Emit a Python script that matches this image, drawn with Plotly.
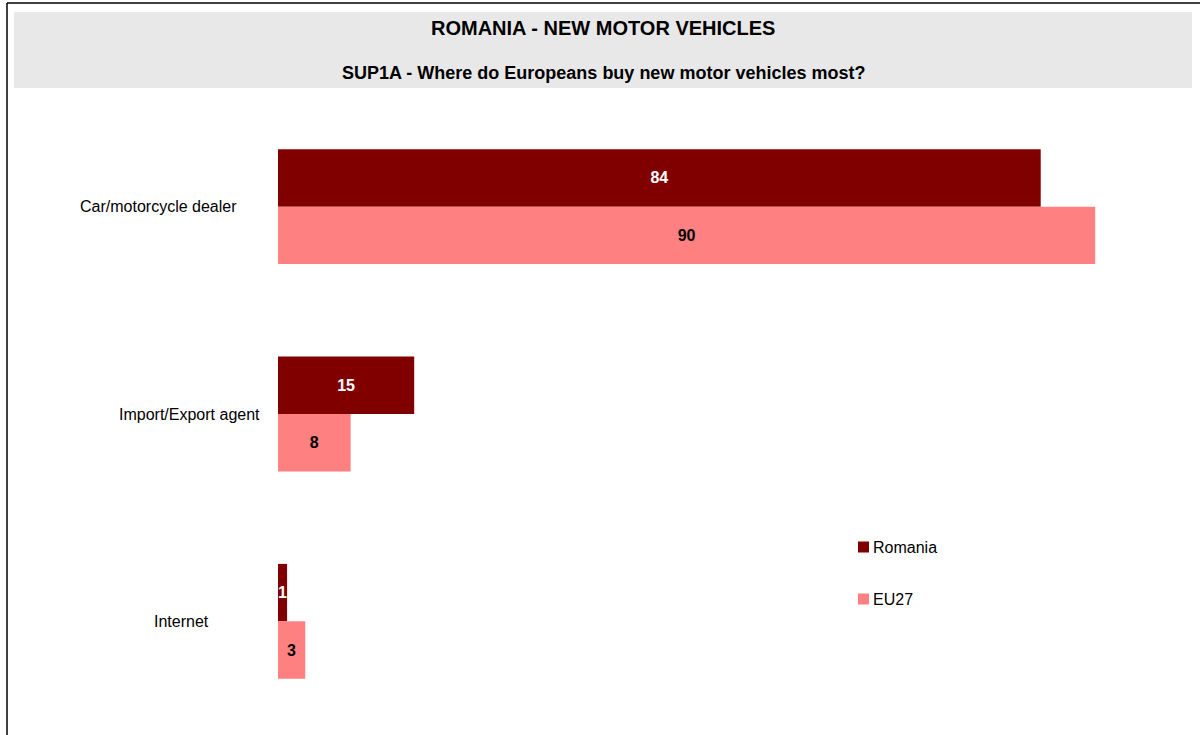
import plotly.graph_objects as go

categories = ["Car/motorcycle dealer", "Import/Export agent", "Internet"]
romania = [84, 15, 1]
eu27 = [90, 8, 3]
series_names = ["Romania", "EU27"]
colors = ["#800000", "#FF8080"]
title = "ROMANIA - NEW MOTOR VEHICLES"
subtitle = "SUP1A - Where do Europeans buy new motor vehicles most?"

W, H = 1200, 735
L, R, T, B = 278, 14, 103, 10
PW, PH = W - L - R, H - T - B

def px(x):
    return (x - L) / PW

def py(y):
    return (H - B - y) / PH

font = "Liberation Sans, Arial, sans-serif"

fig = go.Figure()
fig.add_trace(go.Bar(
    y=categories, x=romania, name=series_names[0], orientation="h",
    marker=dict(color=colors[0], line=dict(width=0)),
    text=romania, textposition="inside", insidetextanchor="middle",
    constraintext="none",
    textfont=dict(color="white", size=16, family=font, weight="bold"),
    showlegend=False, hoverinfo="skip",
))
fig.add_trace(go.Bar(
    y=categories, x=eu27, name=series_names[1], orientation="h",
    marker=dict(color=colors[1], line=dict(width=0)),
    text=eu27, textposition="inside", insidetextanchor="middle",
    constraintext="none",
    textfont=dict(color="black", size=16, family=font, weight="bold"),
    showlegend=False, hoverinfo="skip",
))

shapes = [
    dict(type="rect", xref="paper", yref="paper", x0=px(14), x1=px(1192), y0=py(88), y1=py(12),
         fillcolor="#E8E8E8", line=dict(width=0), layer="below"),
    dict(type="line", xref="paper", yref="paper", x0=px(7), x1=px(7), y0=py(735), y1=py(3),
         line=dict(color="black", width=1.5)),
    dict(type="line", xref="paper", yref="paper", x0=px(7), x1=px(1200), y0=py(3), y1=py(3),
         line=dict(color="black", width=1.5)),
]

annotations = [
    dict(text=f"<b>{title}</b>", xref="paper", yref="paper", x=px(603), y=py(28),
         showarrow=False, font=dict(size=20, family=font, color="black"), xanchor="center", yanchor="middle"),
    dict(text=f"<b>{subtitle}</b>", xref="paper", yref="paper", x=px(603), y=py(73),
         showarrow=False, font=dict(size=18, family=font, color="black"), xanchor="center", yanchor="middle"),
]

label_right = [239, 262, 211]
for cat, xr in zip(categories, label_right):
    annotations.append(dict(text=cat, xref="paper", yref="y", x=px(xr), y=cat,
                            showarrow=False, xanchor="right", yanchor="middle",
                            font=dict(size=16, family=font, color="black")))

leg_y = [547, 599]
for name, col, ly in zip(series_names, colors, leg_y):
    shapes.append(dict(type="rect", xref="paper", yref="paper", x0=px(858), x1=px(869),
                       y0=py(ly + 5.5), y1=py(ly - 5.5), fillcolor=col, line=dict(width=0)))
    annotations.append(dict(text=name, xref="paper", yref="paper", x=px(871), y=py(ly),
                            showarrow=False, xanchor="left", yanchor="middle",
                            font=dict(size=16, family=font, color="black")))

fig.update_layout(
    width=W, height=H,
    margin=dict(l=L, r=R, t=T, b=B, pad=0),
    paper_bgcolor="white", plot_bgcolor="white",
    barmode="group", bargap=0.446, bargroupgap=0,
    xaxis=dict(range=[0, 100], visible=False, showgrid=False, zeroline=False),
    yaxis=dict(autorange="reversed", showticklabels=False, showgrid=False, zeroline=False,
               showline=False, ticks=""),
    shapes=shapes, annotations=annotations,
    showlegend=False,
    font=dict(family=font),
)

fig.write_html("out.html", config={"displayModeBar": False},
               post_script="document.body.style.margin='0';document.body.style.padding='0';")
